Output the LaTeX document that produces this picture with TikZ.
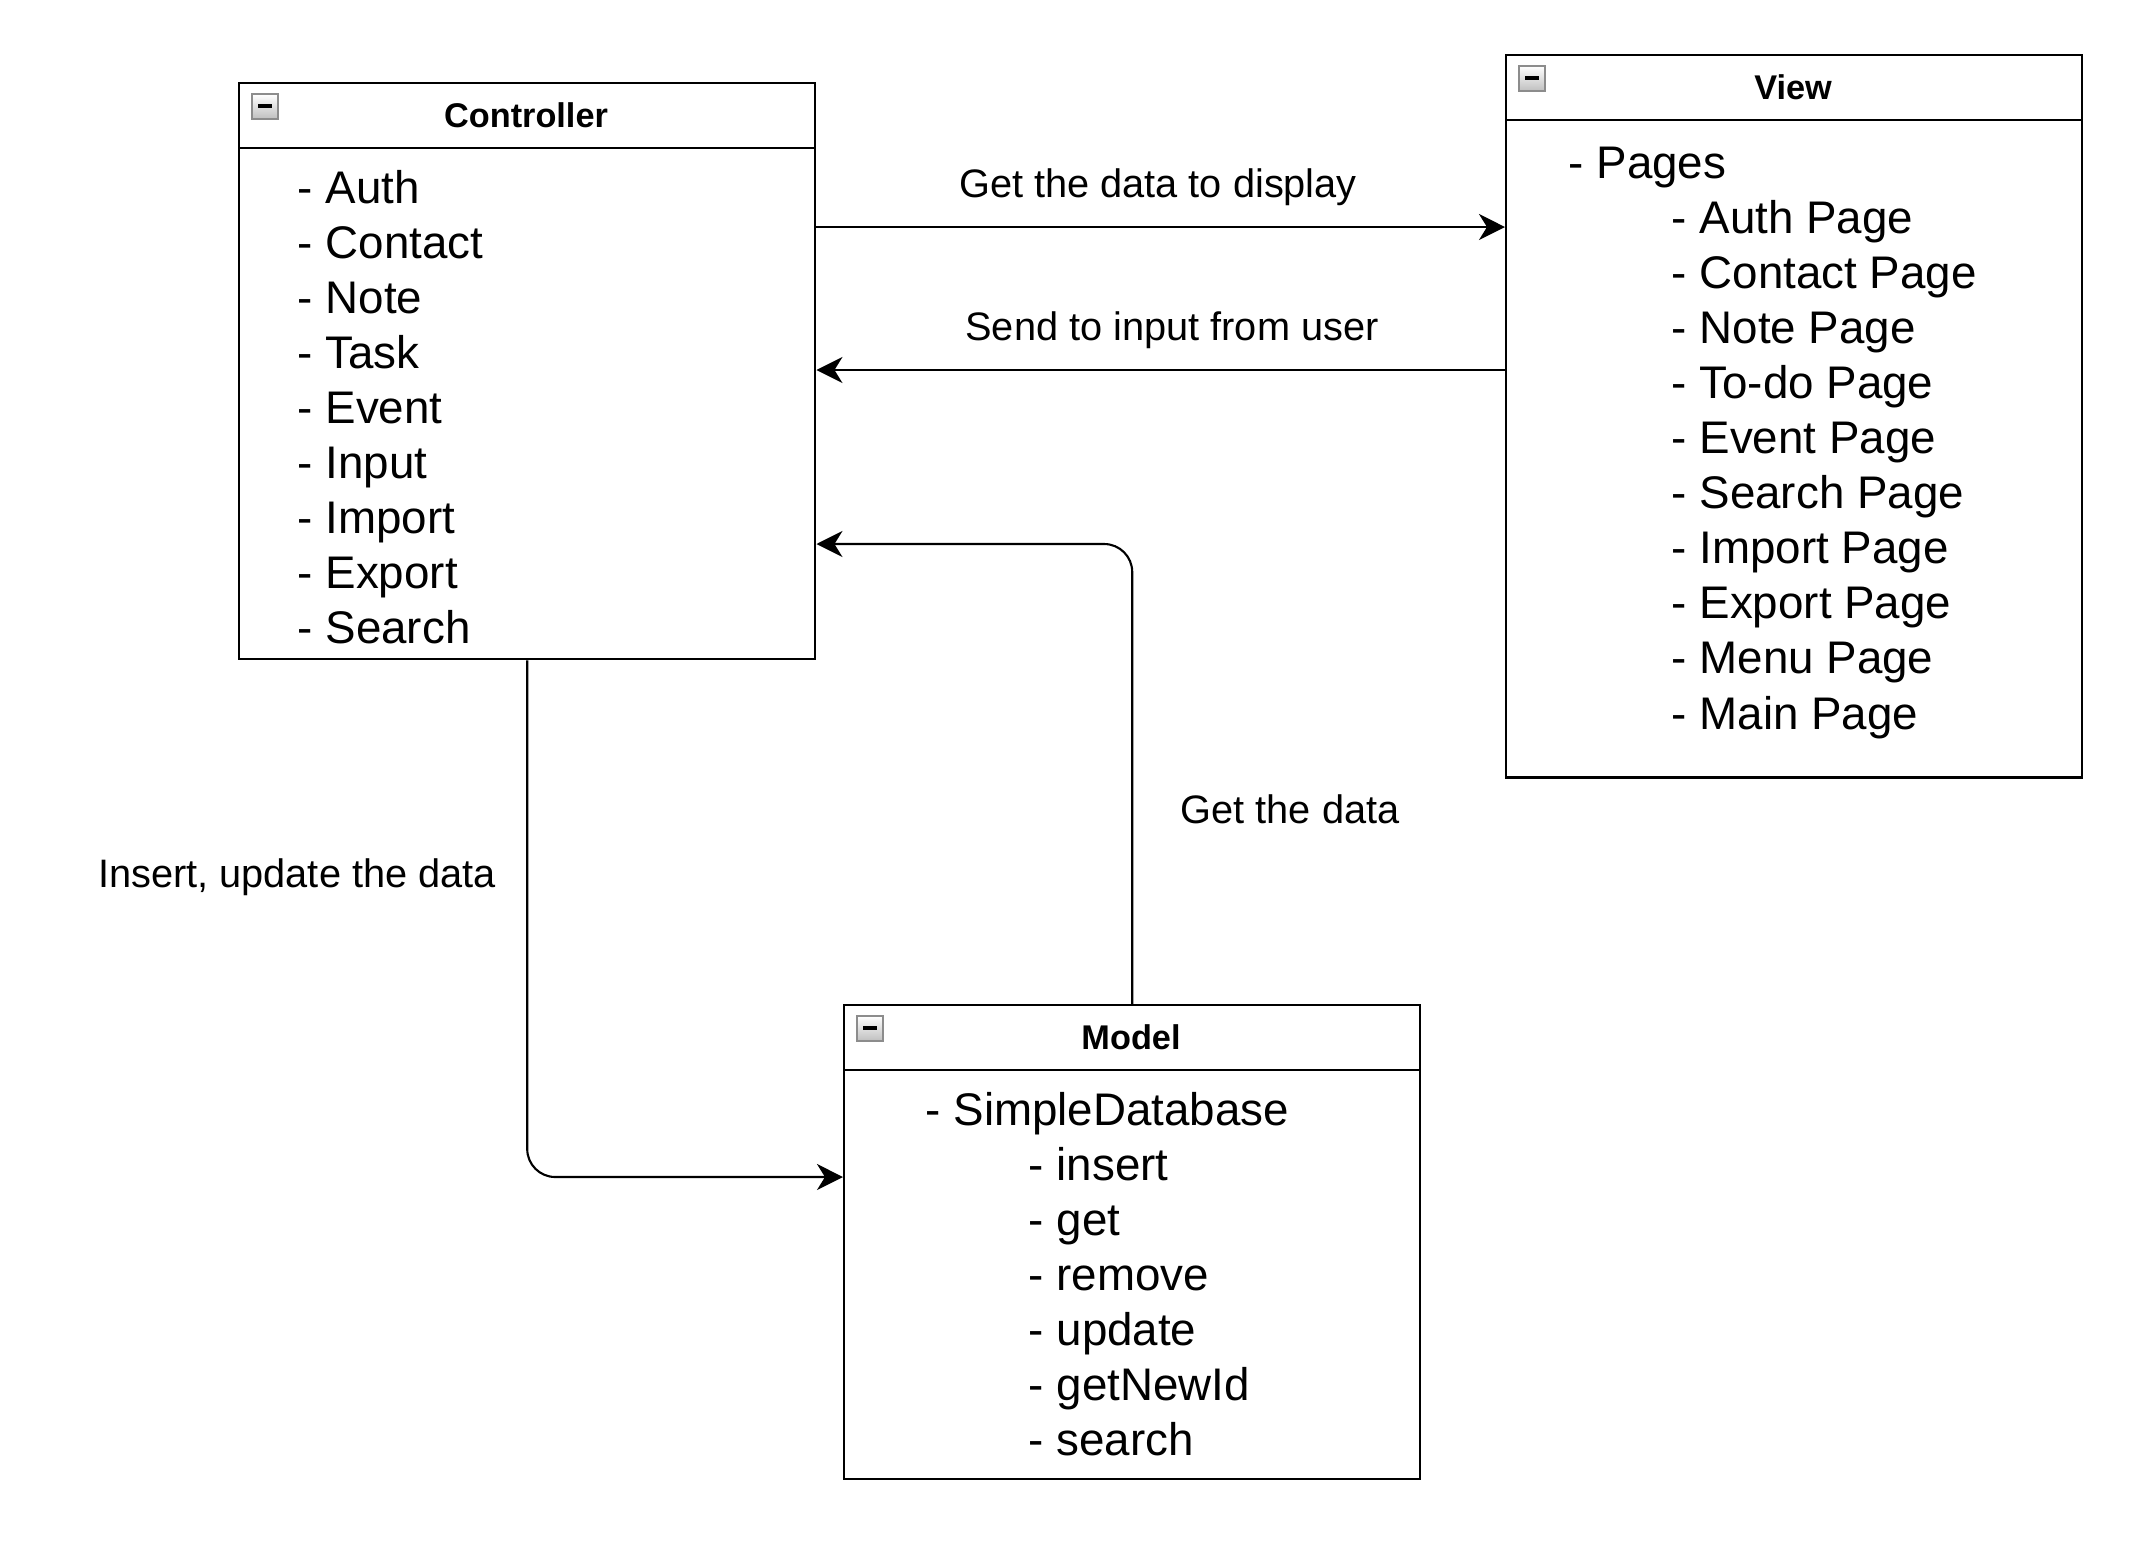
\documentclass[tikz,border=0pt]{standalone}
\usepackage{fontspec}
\setmainfont{Liberation Sans}
\usetikzlibrary{arrows.meta}
\tikzset{
  box/.style={draw, line width=0.6pt, anchor=north west, minimum width=5.76cm, inner sep=0pt},
  item/.style={anchor=base west, inner sep=0pt, font=\fontsize{13}{15.6}\selectfont},
  lbl/.style={anchor=base, inner sep=0pt, font=\fontsize{11.3}{13.5}\selectfont},
  ttl/.style={anchor=base, inner sep=0pt, font=\bfseries\fontsize{9.75}{12}\selectfont},
  arr/.style={line width=0.6pt, -{Stealth[length=0.26cm, width=0.26cm, inset=0.08cm]}},
  rnd/.style={rounded corners=0.28cm}
}
\newcommand{\minusicon}[2]{%
  \shade[top color=white, bottom color=black!25, draw=black!45, line width=0.4pt] (#1,#2) rectangle ++(26,25);
  \fill (#1+6,#2+10) rectangle ++(14,3.5);
}
\begin{document}
\begin{tikzpicture}[x=0.01cm, y=-0.01cm]
\useasboundingbox (0,0) rectangle (2154,1556);
\fill[white] (0,0) rectangle (2154,1556);

% boxes
\node[box, minimum height=5.76cm] (ctrl) at (238,82) {};
\node[box, minimum height=7.22cm] (view) at (1505,54) {};
\node[box, minimum height=4.74cm] (model) at (843,1004) {};

\draw[line width=0.6pt] (ctrl.north west) ++(0,66) -- ++(576,0);
\draw[line width=0.6pt] (view.north west) ++(0,66) -- ++(576,0);
\draw[line width=0.6pt] (model.north west) ++(0,66) -- ++(576,0);

\minusicon{252}{94}
\minusicon{1519}{66}
\minusicon{857}{1016}

% titles
\node[ttl] (ctrlt) at (526,127) {Controller};
\node[ttl] (viewt) at (1793,99) {View};
\node[ttl] (modelt) at (1131,1049) {Model};

% controller items
\foreach \t [count=\i from 0] in {Auth, Contact, Note, Task, Event, Input, Import, Export, Search}
  \node[item] (c\i) at (297,{203+55.1*\i}) {- \t};

% view items
\node[item] (v0) at (1568,178) {- Pages};
\foreach \t [count=\i from 1] in {Auth Page, Contact Page, Note Page, To-do Page, Event Page, Search Page, Import Page, Export Page, Menu Page, Main Page}
  \node[item] (v\i) at (1671,{178+55.1*\i}) {- \t};

% model items
\node[item] (m0) at (925,1125) {- SimpleDatabase};
\foreach \t [count=\i from 1] in {insert, get, remove, update, getNewId, search}
  \node[item] (m\i) at (1028,{1125+55.1*\i}) {- \t};

% connectors
\coordinate (ya) at (0,227);
\coordinate (yb) at (0,370);
\coordinate (yc) at (0,544);
\coordinate (yd) at (0,1177);
\draw[arr] (ctrl.east |- ya) -- (view.west |- ya);
\draw[arr] (view.west |- yb) -- (ctrl.east |- yb);
\draw[arr, rnd] (model.north) |- (ctrl.east |- yc);
\draw[arr, rnd] (ctrl.south) |- (model.west |- yd);

% labels
\node[lbl] (la) at (1158,197) {Get the data to display};
\node[lbl] (lb) at (1172,340) {Send to input from user};
\node[lbl] (lc) at (1290,823) {Get the data};
\node[lbl] (ld) at (297,887) {Insert, update the data};
\end{tikzpicture}
\end{document}
